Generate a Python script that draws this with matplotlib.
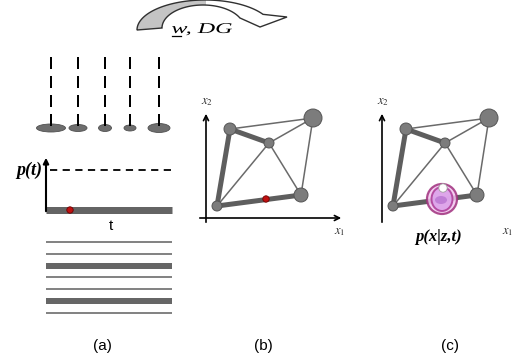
import numpy as np
import matplotlib
matplotlib.use("Agg")
import matplotlib.pyplot as plt
from matplotlib.patches import Circle, Ellipse, Polygon, Rectangle, PathPatch
from matplotlib.textpath import TextPath
from matplotlib.font_manager import FontProperties
from matplotlib.transforms import Affine2D

plt.rcParams['mathtext.fontset'] = 'stix'

# --- panel (a): component means (dashed stems) and their weights (ellipse sizes)
stem_x = [51, 78, 105, 130, 159]
stem_w = [29, 18, 13, 12, 22]
stem_h = [8, 7, 7, 6, 9]
# stripes below the time axis: (y, thick?)
stripe_y = [242, 254, 266, 277, 289, 301, 313]
stripe_thick = [False, False, True, False, False, True, False]

# --- panel (b)/(c): graph nodes and edges
node_names = ['A', 'B', 'C', 'D', 'E']
node_x = [230, 269, 313, 301, 217]
node_y = [129, 143, 118, 195, 206]
node_r = [6, 5, 9, 7, 5]
thick_edges = [('A', 'B'), ('A', 'E'), ('E', 'D')]
thin_edges = [('A', 'C'), ('B', 'C'), ('B', 'E'), ('B', 'D'), ('C', 'D')]
panel_c_shift = 176
red_dot = (266, 199)

panel_labels = ['(a)', '(b)', '(c)']
panel_label_x = [102, 263, 450]

fig = plt.figure(figsize=(5.14, 3.62), dpi=100)
ax = fig.add_axes([0, 0, 1, 1])
ax.set_xlim(0, 514)
ax.set_ylim(362, 0)
ax.axis('off')

px = 0.72  # points per pixel

# --- curved arrow at top
th_o = np.linspace(np.pi, np.deg2rad(31.5), 80)
outer = np.c_[205 + 68 * np.cos(th_o), 30 - 30 * np.sin(th_o)]
th_i = np.linspace(np.deg2rad(25.8), np.pi, 80)
inner = np.c_[203 + 41 * np.cos(th_i), 28 - 23 * np.sin(th_i)]
head = np.array([[287, 17], [260, 27], [240, 18]])
shape = np.vstack([outer, head, inner])
gray_part = Polygon(shape, closed=True, facecolor='#c4c4c4', edgecolor='none')
ax.add_patch(gray_part)
clip = Rectangle((100, -5), 106, 60, transform=ax.transData)
gray_part.set_clip_path(clip)
ax.add_patch(Polygon(shape, closed=True, facecolor='none', edgecolor='#303030', lw=1.0))

# wide italic label under the arrow
label_path = TextPath((0, 0), 'w, DG', size=15,
                      prop=FontProperties(family='Liberation Serif', style='italic'))
ext = label_path.get_extents()
sx = 60.0 / ext.width
tr = Affine2D().translate(-ext.x0, 0).scale(sx, -1).translate(172, 33)
ax.add_patch(PathPatch(tr.transform_path(label_path), facecolor='black', edgecolor='none', lw=0))
ax.plot([172, 181], [35.5, 35.5], color='black', lw=0.9)

# --- panel (a)
for x, w, h in zip(stem_x, stem_w, stem_h):
    ax.plot([x, x], [57, 127], color='black', lw=2 * px, dashes=(6, 3.5), zorder=2)
    ax.add_patch(Ellipse((x, 128), w, h, facecolor='#6e6e6e', edgecolor='#505050', lw=0.6, zorder=1))

ax.annotate('', xy=(46, 155), xytext=(46, 214),
            arrowprops=dict(arrowstyle='-|>', color='black', lw=1.5, mutation_scale=8))
ax.plot([50, 172], [170, 170], color='black', lw=1.3, dashes=(4, 3))
ax.plot([46, 172], [210, 210], color='#646464', lw=7 * px, solid_capstyle='butt')
ax.add_patch(Circle((70, 210), 3.2, facecolor='#c01010', edgecolor='#700000', lw=0.6, zorder=5))
ax.text(29, 170, 'p(t)', fontsize=13, family='Liberation Serif', style='italic',
        weight='bold', ha='center', va='center')
ax.text(111, 226, 't', fontsize=11, family='Liberation Sans', ha='center', va='center')
for y, thick in zip(stripe_y, stripe_thick):
    ax.plot([46, 172], [y, y], color='#666666' if thick else '#777777',
            lw=(6 if thick else 1.8) * px, solid_capstyle='butt')

# --- panels (b) and (c)
pos = {n: (x, y) for n, x, y in zip(node_names, node_x, node_y)}
rad = dict(zip(node_names, node_r))


def draw_graph(dx):
    ax.annotate('', xy=(dx + 206, 111), xytext=(dx + 206, 225),
                arrowprops=dict(arrowstyle='->', color='black', lw=1.2, mutation_scale=9))
    ax.annotate('', xy=(dx + 344, 218), xytext=(dx + 197, 218),
                arrowprops=dict(arrowstyle='->', color='black', lw=1.2, mutation_scale=9))
    ax.text(dx + 207, 102, r'$x_2$', fontsize=9, ha='center', va='center', color='#303030')
    for a, b in thin_edges:
        ax.plot([pos[a][0] + dx, pos[b][0] + dx], [pos[a][1], pos[b][1]],
                color='#6a6a6a', lw=1.1, zorder=3)
    for a, b in thick_edges:
        ax.plot([pos[a][0] + dx, pos[b][0] + dx], [pos[a][1], pos[b][1]],
                color='#5e5e5e', lw=5 * px, zorder=3, solid_capstyle='round')
    for n in node_names:
        ax.add_patch(Circle((pos[n][0] + dx, pos[n][1]), rad[n], facecolor='#7c7c7c',
                            edgecolor='#555555', lw=0.7, zorder=4))


draw_graph(0)
ax.text(340, 231, r'$x_1$', fontsize=9, ha='center', va='center', color='#303030')
ax.add_patch(Circle(red_dot, 3.2, facecolor='#c01010', edgecolor='#700000', lw=0.6, zorder=5))

draw_graph(panel_c_shift)
ax.text(513, 231, r'$x_1$', fontsize=9, ha='right', va='center', color='#303030')
cx, cy = 442, 199
ax.add_patch(Circle((cx, cy), 15, facecolor='#f2c6ee', edgecolor='#a0307e', lw=1.6, alpha=0.85, zorder=6))
ax.add_patch(Ellipse((cx, cy), 21, 24, facecolor='#dca2ea', edgecolor='#b0409a', lw=1.4, alpha=0.9, zorder=7))
ax.add_patch(Ellipse((cx - 1, cy + 1), 12, 8, facecolor='#c07ed6', edgecolor='none', zorder=8))
ax.add_patch(Circle((cx + 1, 188), 4.2, facecolor='white', edgecolor='#a0a0a0', lw=0.6, zorder=9))
ax.text(439, 237, 'p(x|z,t)', fontsize=12, family='Liberation Serif', style='italic',
        weight='bold', ha='center', va='center')

for lab, x in zip(panel_labels, panel_label_x):
    ax.text(x, 346, lab, fontsize=11, family='Liberation Sans', ha='center', va='center')

fig.savefig('out.png', dpi=100)
